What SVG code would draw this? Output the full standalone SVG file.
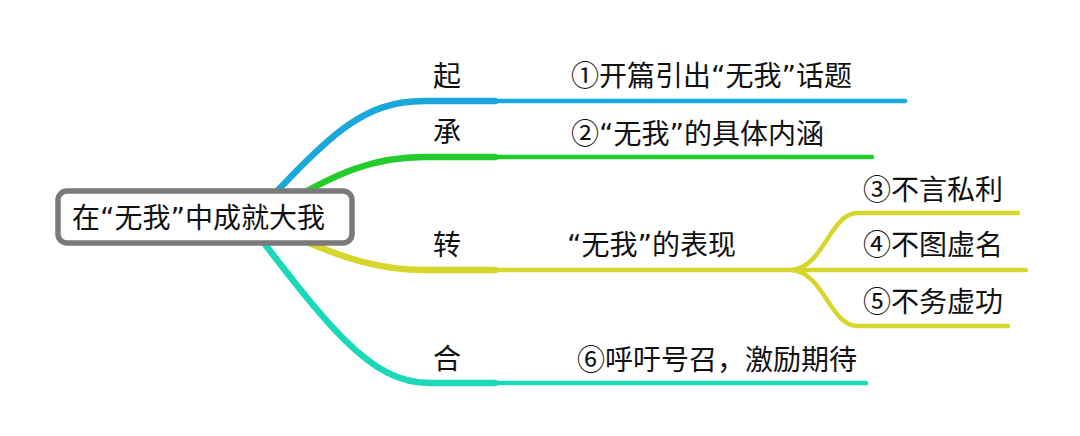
<svg xmlns="http://www.w3.org/2000/svg" width="1080" height="436" viewBox="0 0 1080 436">
<style>
.t{font-family:"DejaVu Sans","Noto Sans CJK SC",sans-serif;font-size:28px;fill:#111}
.n{font-family:"Noto Sans CJK SC",sans-serif}
.c{text-anchor:middle}
.thick{fill:none;stroke-width:6.5;stroke-linecap:round}
.thin{fill:none;stroke-width:4.5;stroke-linecap:round}
.b{stroke:#1aa8da}.g{stroke:#22cc2a}.y{stroke:#d6d62c}.q{stroke:#1ad8b8}
</style>
<rect width="1080" height="436" fill="#fff"/>
<g id="connectors">
<path class="thick b" d="M 245 225 C 330 135, 360 101, 425 101 L 495 101"/>
<path class="thin b" d="M 495 101 L 905 101"/>
<path class="thick g" d="M 270 212 C 340 170, 375 157, 425 157 L 495 157"/>
<path class="thin g" d="M 495 157 L 872 157"/>
<path class="thick y" d="M 270 225 C 345 262, 385 270, 425 270 L 495 270"/>
<path class="thin y" d="M 495 270 L 793 270"/>
<path class="thin y" d="M 793 270 C 825 265, 830 213, 858 213 L 1018 213"/>
<path class="thin y" d="M 793 270 L 1026 270"/>
<path class="thin y" d="M 793 270 C 825 275, 830 326, 858 326 L 1008 326"/>
<path class="thick q" d="M 235 205 C 330 330, 370 383, 430 383 L 495 383"/>
<path class="thin q" d="M 495 383 L 866 383"/>
</g>
<g id="center">
<rect x="58" y="191" width="294" height="52" rx="9" fill="#fff" stroke="#7a7a7a" stroke-width="5.5"/>
<text class="t" x="72" y="228">在“无我”中成就大我</text>
</g>
<g id="qi"><text class="t c" x="447" y="86">起</text></g>
<g id="cheng"><text class="t c" x="447" y="142">承</text></g>
<g id="zhuan"><text class="t c" x="447" y="255">转</text></g>
<g id="he"><text class="t c" x="447" y="369">合</text></g>
<g id="n1"><text class="t" x="571" y="86"><tspan class="n">①</tspan>开篇引出“无我”话题</text></g>
<g id="n2"><text class="t" x="571" y="144"><tspan class="n">②</tspan>“无我”的具体内涵</text></g>
<g id="n3"><text class="t" x="567" y="255">“无我”的表现</text></g>
<g id="n3a"><text class="t" x="863" y="200"><tspan class="n">③</tspan>不言私利</text></g>
<g id="n3b"><text class="t" x="863" y="255"><tspan class="n">④</tspan>不图虚名</text></g>
<g id="n3c"><text class="t" x="863" y="312"><tspan class="n">⑤</tspan>不务虚功</text></g>
<g id="n6"><text class="t" x="577" y="370"><tspan class="n">⑥</tspan>呼吁号召，激励期待</text></g>
</svg>
